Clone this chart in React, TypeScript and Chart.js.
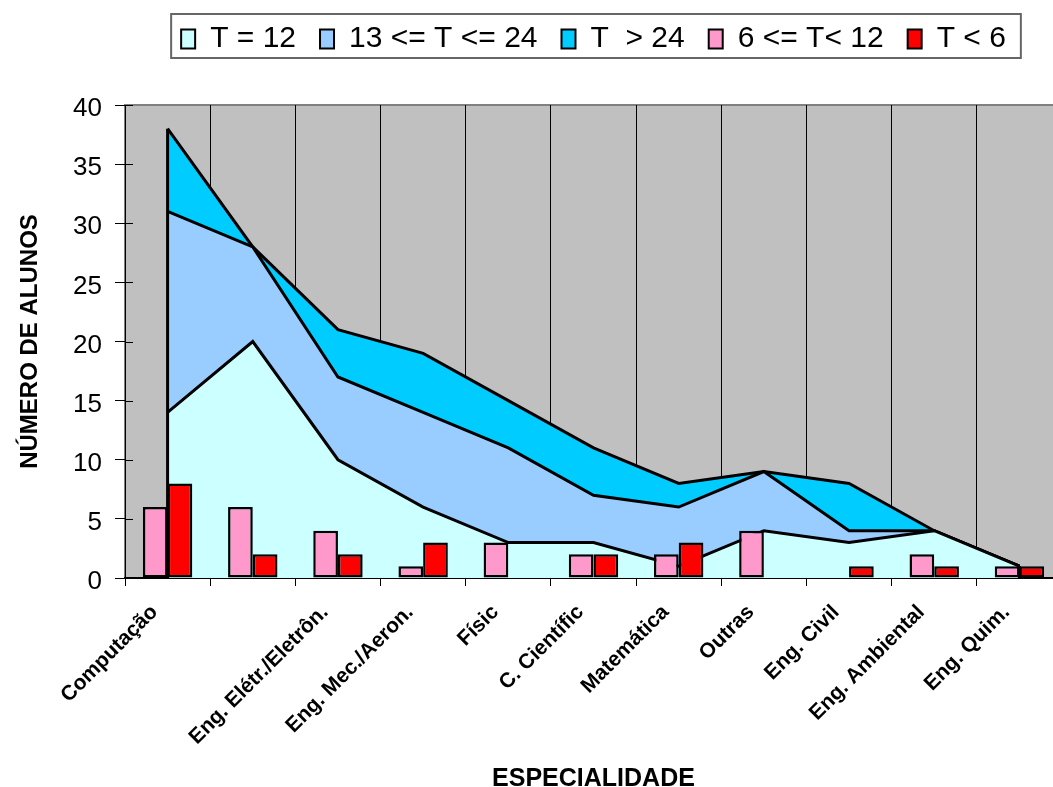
import React, { useEffect, useRef } from 'react';
import { Chart, registerables } from 'chart.js';

Chart.register(...registerables);
Chart.defaults.font.family = "'Liberation Sans', Arial, sans-serif";

// ---- data ----
const categories = [
  'Computação',
  '',
  'Eng. Elétr./Eletrôn.',
  'Eng. Mec./Aeron.',
  'Físic',
  'C. Científic',
  'Matemática',
  'Outras',
  'Eng. Civil',
  'Eng. Ambiental',
  'Eng. Quim.',
];
const seriesLabels = ['T = 12', '13 <= T <= 24', 'T  > 24', '6 <= T< 12', 'T < 6'];
const tEq12 = [14, 20, 10, 6, 3, 3, 1, 4, 3, 4, 1];
const t13to24 = [17, 8, 7, 8, 8, 4, 5, 5, 1, 0, 0];
const tOver24 = [7, 0, 4, 5, 4, 4, 2, 0, 4, 0, 0];
const t6to12 = [6, 6, 4, 1, 3, 2, 2, 4, 0, 2, 1];
const tUnder6 = [8, 2, 2, 3, 0, 2, 3, 0, 1, 1, 1];
const yMin = 0;
const yMax = 40;
const yStep = 5;

const plotDecor = {
  id: 'plotDecor',
  beforeDraw(chart: any) {
    const { ctx, chartArea: a } = chart;
    ctx.save();
    ctx.fillStyle = '#C0C0C0';
    ctx.fillRect(a.left, a.top, a.right - a.left, a.bottom - a.top);
    ctx.strokeStyle = '#808080';
    ctx.lineWidth = 2;
    ctx.strokeRect(a.left, a.top, a.right - a.left, a.bottom - a.top);
    ctx.restore();
  },
  beforeDatasetsDraw(chart: any) {
    const { ctx, chartArea: a } = chart;
    const ys = chart.scales.y;
    ctx.save();
    ctx.strokeStyle = '#000';
    ctx.lineWidth = 1;
    ys.ticks.forEach((t: any) => {
      const py = Math.round(ys.getPixelForValue(t.value)) + 0.5;
      ctx.beginPath();
      ctx.moveTo(a.left, py);
      ctx.lineTo(a.left + 8, py);
      ctx.stroke();
    });
    ctx.restore();
  },
  afterDatasetDraw(chart: any, args: any) {
    if (args.index !== 0) return;
    const { ctx } = chart;
    const m0 = chart.getDatasetMeta(0);
    const mTop = chart.getDatasetMeta(2);
    const y0 = chart.scales.y.getPixelForValue(0);
    const last = m0.data.length - 1;
    ctx.save();
    ctx.strokeStyle = '#000';
    ctx.lineWidth = 3;
    [0, last].forEach((i) => {
      const x = m0.data[i].x;
      ctx.beginPath();
      ctx.moveTo(x, y0);
      ctx.lineTo(x, mTop.data[i].y);
      ctx.stroke();
    });
    ctx.restore();
  },
  afterDraw(chart: any) {
    const hb = chart.legend && chart.legend.legendHitBoxes;
    if (!hb || !hb.length) return;
    const { ctx } = chart;
    const first = hb[0];
    const lastB = hb[hb.length - 1];
    const left = first.left - 10;
    const right = lastB.left + lastB.width + 15;
    const top = first.top - 10;
    const bottom = first.top + first.height + 4;
    ctx.save();
    ctx.strokeStyle = '#666';
    ctx.lineWidth = 2;
    ctx.strokeRect(left, top, right - left, bottom - top);
    ctx.restore();
  },
};

export default function App() {
  const ref = useRef<HTMLCanvasElement | null>(null);

  useEffect(() => {
    if (!ref.current) return;
    const areaCommon = {
      type: 'line' as const,
      stack: 'area',
      borderColor: '#000',
      borderWidth: 3,
      pointRadius: 0,
      pointHoverRadius: 0,
      tension: 0,
      order: 2,
    };
    const barCommon = {
      type: 'bar' as const,
      borderColor: '#000',
      borderWidth: 2.5,
      borderSkipped: false,
      categoryPercentage: 0.58,
      barPercentage: 1,
      order: 1,
    };
    const chart = new Chart(ref.current, {
      type: 'bar',
      data: {
        labels: categories,
        datasets: [
          { ...areaCommon, label: seriesLabels[0], data: tEq12, backgroundColor: '#CCFFFF', fill: 'origin' },
          { ...areaCommon, label: seriesLabels[1], data: t13to24, backgroundColor: '#99CCFF', fill: '-1' },
          { ...areaCommon, label: seriesLabels[2], data: tOver24, backgroundColor: '#00CCFF', fill: '-1' },
          { ...barCommon, label: seriesLabels[3], data: t6to12, backgroundColor: '#FF99CC', stack: 'a' },
          { ...barCommon, label: seriesLabels[4], data: tUnder6, backgroundColor: '#FF0000', stack: 'b' },
        ] as any,
      },
      options: {
        responsive: false,
        animation: false,
        devicePixelRatio: 1,
        layout: { padding: { left: 0, right: 18, top: 0, bottom: 0 } },
        plugins: {
          tooltip: { enabled: false },
          title: {
            display: true,
            text: '',
            position: 'top',
            weight: 500,
            fullSize: false,
            padding: 0,
            font: { size: 41, lineHeight: 1 },
          } as any,
          legend: {
            position: 'top',
            fullSize: false,
            labels: {
              font: { size: 30 },
              color: '#000',
              boxWidth: 14,
              boxHeight: 19,
              padding: 24,
              sort: (a: any, b: any) => a.datasetIndex - b.datasetIndex,
              generateLabels: (c: any) =>
                (Chart.defaults.plugins.legend.labels as any)
                  .generateLabels(c)
                  .map((l: any) => ({ ...l, lineWidth: 2, strokeStyle: '#000' })),
            },
          },
        },
        scales: {
          x: {
            ticks: {
              autoSkip: false,
              minRotation: 45,
              maxRotation: 45,
              font: { size: 21, weight: 'bold' },
              color: '#000',
              padding: 14,
              labelOffset: -13,
            },
            grid: { color: '#000', lineWidth: 1, tickLength: 8, offset: true },
            border: { color: '#000', width: 2 },
            title: {
              display: true,
              text: 'ESPECIALIDADE',
              font: { size: 25, weight: 'bold' },
              color: '#000',
              padding: { top: 0, bottom: 6 },
            },
            afterFit: (s: any) => {
              s.height = 222;
            },
          },
          y: {
            stacked: true,
            min: yMin,
            max: yMax,
            ticks: { stepSize: yStep, font: { size: 26 }, color: '#000', padding: 13, labelOffset: 4 },
            grid: { drawOnChartArea: false, drawTicks: true, tickLength: 10, color: '#000' },
            border: { color: '#000', width: 1 },
            title: {
              display: true,
              text: 'NÚMERO DE ALUNOS',
              font: { size: 24, weight: 'bold' },
              color: '#000',
              padding: { top: 16, bottom: 0 },
            },
            afterFit: (s: any) => {
              s.width = 125;
            },
          },
        },
      } as any,
      plugins: [plotDecor],
    });
    return () => chart.destroy();
  }, []);

  return (
    <div style={{ position: 'absolute', left: 0, top: 0, width: 1053, height: 787, overflow: 'hidden', background: '#fff' }}>
      <canvas ref={ref} width={1080} height={800} style={{ display: 'block' }} />
    </div>
  );
}
